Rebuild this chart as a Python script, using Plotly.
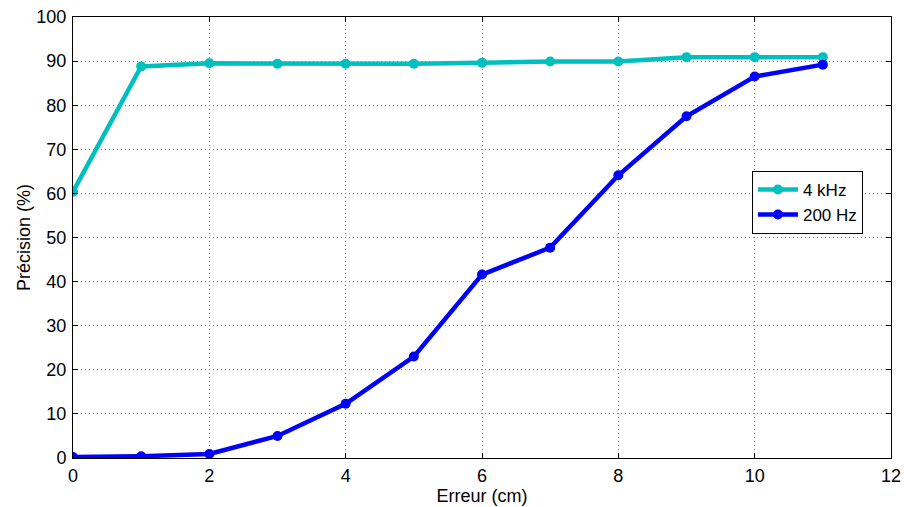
import plotly.graph_objects as go

x_vals = [0, 1, 2, 3, 4, 5, 6, 7, 8, 9, 10, 11]
khz4 = [60.4, 88.8, 89.5, 89.4, 89.4, 89.4, 89.6, 89.9, 89.9, 90.9, 90.9, 90.9]
hz200 = [0.2, 0.4, 0.9, 5.0, 12.3, 23.0, 41.6, 47.7, 64.1, 77.5, 86.5, 89.2]
x_ticks = [0, 2, 4, 6, 8, 10, 12]
y_ticks = [0, 10, 20, 30, 40, 50, 60, 70, 80, 90, 100]

FONT = "Liberation Sans, Arial"

fig = go.Figure()
fig.add_trace(go.Scatter(x=x_vals, y=khz4, mode="lines+markers", name="4 kHz",
                         line=dict(color="#00BFBF", width=4.5),
                         marker=dict(color="#00BFBF", size=10)))
fig.add_trace(go.Scatter(x=x_vals, y=hz200, mode="lines+markers", name="200 Hz",
                         line=dict(color="#0000FF", width=4.5),
                         marker=dict(color="#0000FF", size=10)))

axis_common = dict(showline=True, linecolor="black", linewidth=1, mirror="ticks",
                   ticks="inside", ticklen=5, tickcolor="black", automargin=False,
                   ticklabeloverflow="allow",
                   showgrid=True, gridcolor="#8a8a8a", griddash="1px,3px", gridwidth=1,
                   zeroline=False, tickfont=dict(family=FONT, size=18, color="black"))

fig.update_xaxes(range=[0, 12], tickvals=x_ticks, ticklabelstandoff=1,
                 title=dict(text="Erreur (cm)", standoff=0,
                 font=dict(family=FONT, size=18, color="black")), **axis_common)
fig.update_yaxes(range=[0, 100], tickvals=y_ticks, ticklabelstandoff=2,
                 title=dict(text="Précision (%)", standoff=1,
                 font=dict(family=FONT, size=18, color="black")), **axis_common)

fig.update_layout(width=904, height=507, margin=dict(l=73, r=13, t=17, b=49),
                  plot_bgcolor="white", paper_bgcolor="white",
                  legend=dict(x=0.83, y=0.651, xanchor="left", yanchor="top",
                              bordercolor="black", borderwidth=1, bgcolor="white",
                              font=dict(family=FONT, size=17, color="black"),
                              tracegroupgap=0, itemwidth=40),
                  showlegend=True)

fig.write_html("out.html", config={"displayModeBar": False},
               post_script="document.body.style.margin='0';document.body.style.overflow='hidden';")
